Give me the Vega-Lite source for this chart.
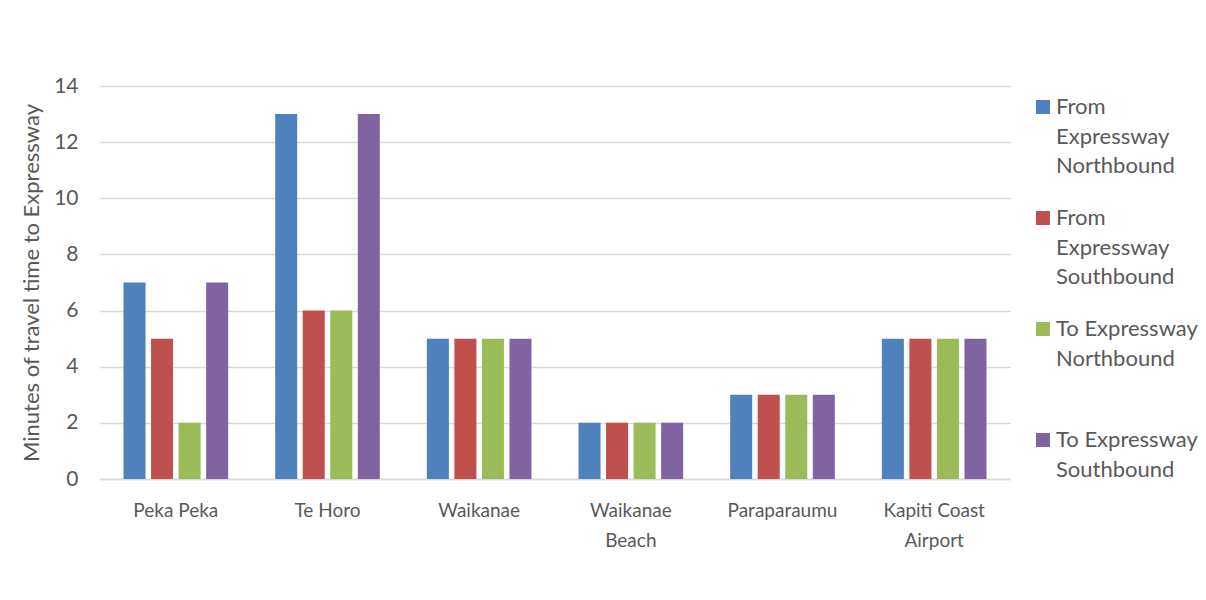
{
  "$schema": "https://vega.github.io/schema/vega-lite/v6.json",
  "width": 910,
  "height": 393,
  "autosize": {"type": "none"},
  "padding": {"left": 100, "top": 86, "right": 196, "bottom": 121},
  "background": "white",
  "data": {
    "values": [
      {"loc": "Peka Peka", "series": "From Expressway Northbound", "minutes": 7},
      {"loc": "Peka Peka", "series": "From Expressway Southbound", "minutes": 5},
      {"loc": "Peka Peka", "series": "To Expressway Northbound", "minutes": 2},
      {"loc": "Peka Peka", "series": "To Expressway Southbound", "minutes": 7},
      {"loc": "Te Horo", "series": "From Expressway Northbound", "minutes": 13},
      {"loc": "Te Horo", "series": "From Expressway Southbound", "minutes": 6},
      {"loc": "Te Horo", "series": "To Expressway Northbound", "minutes": 6},
      {"loc": "Te Horo", "series": "To Expressway Southbound", "minutes": 13},
      {"loc": "Waikanae", "series": "From Expressway Northbound", "minutes": 5},
      {"loc": "Waikanae", "series": "From Expressway Southbound", "minutes": 5},
      {"loc": "Waikanae", "series": "To Expressway Northbound", "minutes": 5},
      {"loc": "Waikanae", "series": "To Expressway Southbound", "minutes": 5},
      {"loc": "Waikanae Beach", "series": "From Expressway Northbound", "minutes": 2},
      {"loc": "Waikanae Beach", "series": "From Expressway Southbound", "minutes": 2},
      {"loc": "Waikanae Beach", "series": "To Expressway Northbound", "minutes": 2},
      {"loc": "Waikanae Beach", "series": "To Expressway Southbound", "minutes": 2},
      {"loc": "Paraparaumu", "series": "From Expressway Northbound", "minutes": 3},
      {"loc": "Paraparaumu", "series": "From Expressway Southbound", "minutes": 3},
      {"loc": "Paraparaumu", "series": "To Expressway Northbound", "minutes": 3},
      {"loc": "Paraparaumu", "series": "To Expressway Southbound", "minutes": 3},
      {"loc": "Kapiti Coast Airport", "series": "From Expressway Northbound", "minutes": 5},
      {"loc": "Kapiti Coast Airport", "series": "From Expressway Southbound", "minutes": 5},
      {"loc": "Kapiti Coast Airport", "series": "To Expressway Northbound", "minutes": 5},
      {"loc": "Kapiti Coast Airport", "series": "To Expressway Southbound", "minutes": 5}
    ]
  },
  "mark": {"type": "bar"},
  "encoding": {
    "x": {
      "field": "loc",
      "type": "nominal",
      "sort": ["Peka Peka", "Te Horo", "Waikanae", "Waikanae Beach", "Paraparaumu", "Kapiti Coast Airport"],
      "scale": {"paddingInner": 0.31, "paddingOuter": 0.155},
      "axis": {
        "title": null,
        "labelAngle": 0,
        "ticks": false,
        "domain": true,
        "domainColor": "#d9d9d9",
        "domainWidth": 1.5,
        "labelFont": "Lato",
        "labelFontSize": 19,
        "labelColor": "#595959",
        "labelPadding": 22,
        "labelBaseline": "top",
        "labelLineHeight": 30,
        "labelExpr": "datum.value == 'Waikanae Beach' ? ['Waikanae', 'Beach'] : datum.value == 'Kapiti Coast Airport' ? ['Kapiti Coast', 'Airport'] : datum.value"
      }
    },
    "xOffset": {
      "field": "series",
      "type": "nominal",
      "sort": ["From Expressway Northbound", "From Expressway Southbound", "To Expressway Northbound", "To Expressway Southbound"],
      "scale": {"paddingInner": 0.2, "paddingOuter": 0}
    },
    "y": {
      "field": "minutes",
      "type": "quantitative",
      "scale": {"domain": [0, 14], "nice": false},
      "axis": {
        "values": [0, 2, 4, 6, 8, 10, 12, 14],
        "grid": true,
        "gridColor": "#d9d9d9",
        "gridWidth": 1.5,
        "domain": false,
        "ticks": false,
        "labelFont": "Lato",
        "labelFontSize": 21,
        "labelColor": "#595959",
        "labelPadding": 22,
        "title": "Minutes of travel time to Expressway",
        "titleFont": "Lato",
        "titleFontSize": 22,
        "titleFontWeight": "normal",
        "titleColor": "#595959",
        "titlePadding": 10
      }
    },
    "color": {
      "field": "series",
      "type": "nominal",
      "scale": {
        "domain": ["From Expressway Northbound", "From Expressway Southbound", "To Expressway Northbound", "To Expressway Southbound"],
        "range": ["#4f81bd", "#c0504d", "#9bbb59", "#8064a2"]
      },
      "legend": {
        "title": null,
        "orient": "none",
        "legendX": 932,
        "legendY": 0,
        "symbolType": "M-1,0.43H1V2.43H-1Z",
        "symbolSize": 196,
        "symbolStrokeWidth": 0,
        "labelFont": "Lato",
        "labelFontSize": 22,
        "labelColor": "#595959",
        "labelOffset": 2,
        "labelLimit": 200,
        "rowPadding": 20,
        "gridAlign": "all",
        "labelBaseline": "top",
        "labelExpr": "datum.label == 'From Expressway Northbound' ? ['From', 'Expressway', 'Northbound'] : datum.label == 'From Expressway Southbound' ? ['From', 'Expressway', 'Southbound'] : datum.label == 'To Expressway Northbound' ? ['To Expressway', 'Northbound'] : ['To Expressway', 'Southbound']"
      }
    }
  },
  "config": {
    "view": {"stroke": null},
    "font": "Lato",
    "style": {"guide-label": {"lineHeight": 29.5}}
  }
}
